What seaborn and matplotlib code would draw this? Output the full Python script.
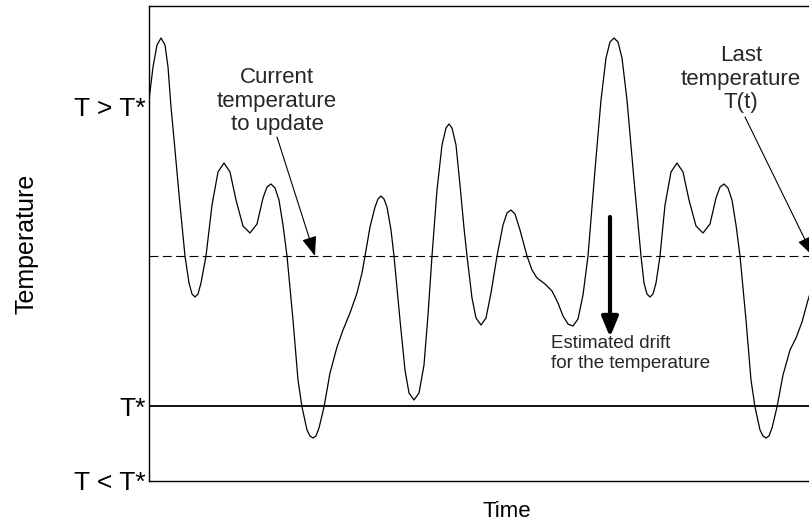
import matplotlib
matplotlib.use("Agg")
import matplotlib.pyplot as plt
import numpy as np
import pandas as pd
import seaborn as sns

# curve (time in arbitrary units, temperature in arbitrary units)
time = [0.0, 0.4, 0.8, 1.2, 1.6, 1.9, 2.2, 2.6, 3.1, 3.6, 4.0, 4.3, 4.6, 4.9, 5.2,
        5.7, 6.3, 6.9, 7.5, 8.1, 8.7, 9.4, 10.1, 10.8, 11.4, 11.8, 12.2, 12.6,
        13.0, 13.4, 13.8, 14.4, 14.9, 15.3, 15.8, 16.1, 16.4, 16.7, 17.0, 17.5,
        18.1, 18.8, 19.4, 20.1, 20.8, 21.3, 21.6, 22.1, 22.6, 22.9, 23.2, 23.5,
        23.8, 24.2, 24.5, 25.1, 25.6, 26.0, 26.5, 27.0, 27.5, 27.9, 28.3, 28.8,
        29.3, 29.7, 30.0, 30.3, 30.7, 31.1, 31.5, 31.8, 32.3, 32.7, 33.2, 33.7,
        34.2, 34.8, 35.4, 35.8, 36.2, 36.6, 37.1, 37.8, 38.3, 38.8, 39.6, 40.3,
        40.9, 41.4, 41.9, 42.4, 42.9, 43.4, 43.9, 44.6, 45.2, 45.7, 46.1, 46.5,
        46.9, 47.3, 47.8, 48.5, 49.2, 49.5, 49.8, 50.1, 50.4, 50.7, 51.1, 51.6,
        52.2, 52.8, 53.4, 54.0, 54.7, 55.4, 56.1, 56.7, 57.1, 57.5, 57.9, 58.3,
        58.7, 59.1, 59.7, 60.2, 60.6, 61.1, 61.4, 61.7, 62.0, 62.3, 62.8, 63.4,
        64.1, 64.7, 65.3, 65.9, 66.6, 66.9]
temperature = [3.81, 4.14, 4.36, 4.43, 4.36, 4.14, 3.74, 3.31, 2.76, 2.25, 1.98,
               1.87, 1.84, 1.87, 1.98, 2.25, 2.76, 3.09, 3.18, 3.09, 2.81, 2.55,
               2.48, 2.57, 2.83, 2.94, 2.97, 2.93, 2.81, 2.56, 2.25, 1.61, 1.01,
               0.74, 0.51, 0.45, 0.43, 0.45, 0.53, 0.74, 1.08, 1.34, 1.51, 1.68,
               1.88, 2.08, 2.25, 2.54, 2.74, 2.82, 2.85, 2.82, 2.74, 2.51, 2.25,
               1.61, 1.11, 0.88, 0.81, 0.88, 1.16, 1.66, 2.25, 2.91, 3.36, 3.53,
               3.57, 3.53, 3.36, 2.96, 2.53, 2.25, 1.83, 1.63, 1.56, 1.63, 1.88,
               2.25, 2.56, 2.68, 2.71, 2.67, 2.51, 2.25, 2.11, 2.03, 1.97, 1.90,
               1.78, 1.65, 1.57, 1.55, 1.62, 1.86, 2.25, 3.11, 3.81, 4.23, 4.39,
               4.43, 4.39, 4.23, 3.81, 3.01, 2.25, 1.98, 1.87, 1.84, 1.87, 1.98,
               2.25, 2.76, 3.09, 3.18, 3.09, 2.81, 2.55, 2.48, 2.57, 2.83, 2.94,
               2.97, 2.93, 2.81, 2.56, 2.25, 1.61, 1.01, 0.74, 0.51, 0.45, 0.43,
               0.45, 0.53, 0.74, 1.06, 1.31, 1.43, 1.59, 1.81, 2.03, 2.25]

tick_values = [0.0, 0.75, 3.75]
tick_labels = ["T < T*", "T*", "T > T*"]
t_star = 0.75
current_level = 2.25

df = pd.DataFrame({"time": time, "temperature": temperature})

sns.set_theme(style="white")
plt.rcParams["font.family"] = ["Liberation Sans", "DejaVu Sans"]

fig = plt.figure(figsize=(8.09, 5.29), dpi=100)
# axes runs past the right edge of the picture, as in the original
ax = fig.add_axes([149 / 809, 48 / 529, 716 / 809, 475 / 529])

sns.lineplot(data=df, x="time", y="temperature", color="black", lw=0.9,
             estimator=None, sort=False, ax=ax)

ax.axhline(t_star, color="black", lw=1.3)
ax.axhline(current_level, color="black", lw=0.8, linestyle=(0, (8, 4)))

# annotations
ax.text(12.8, 3.80, "Current\ntemperature\nto update", ha="center", va="center",
        fontsize=16, linespacing=1.15)
ax.annotate("", xy=(16.6, 2.25), xytext=(12.8, 3.44),
            arrowprops=dict(arrowstyle="-|>,head_length=1.2,head_width=0.45",
                            color="black", lw=0.8, shrinkA=0, shrinkB=0,
                            mutation_scale=10))

ax.text(59.2, 4.02, "Last\ntemperature\nT(t)", ha="center", va="center",
        fontsize=16, linespacing=1.15)
ax.annotate("", xy=(66.4, 2.25), xytext=(59.6, 3.64),
            arrowprops=dict(arrowstyle="-|>,head_length=1.2,head_width=0.45",
                            color="black", lw=0.8, shrinkA=0, shrinkB=0,
                            mutation_scale=10))

ax.annotate("", xy=(46.1, 1.44), xytext=(46.1, 2.64),
            arrowprops=dict(arrowstyle="-|>,head_length=1.2,head_width=0.5",
                            color="black", lw=3, shrinkA=0, shrinkB=0,
                            mutation_scale=10))
ax.text(40.2, 1.46, "Estimated drift\nfor the temperature", ha="left", va="top",
        fontsize=13.5, linespacing=1.25)

ax.set_xlim(0, 71.6)
ax.set_ylim(0, 4.75)
ax.set_xticks([])
ax.set_yticks(tick_values)
ax.set_yticklabels(tick_labels, fontsize=19)
ax.tick_params(axis="y", direction="in", length=3.6, width=0.8, pad=2, colors="black")

ax.set_xlabel("Time", fontsize=16, color="black")
ax.set_ylabel("Temperature", fontsize=18, color="black")
ax.xaxis.set_label_coords(0.5, -0.042)
ax.yaxis.set_label_coords(-0.155, 0.5)

for side in ["left", "top", "bottom"]:
    ax.spines[side].set_color("black")
    ax.spines[side].set_linewidth(1.0)
ax.spines["right"].set_visible(False)

fig.savefig("out.png", dpi=100)
